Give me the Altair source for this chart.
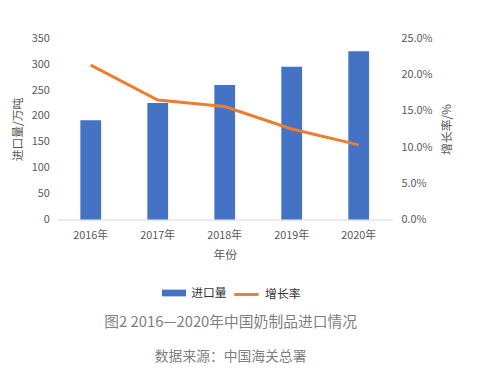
import altair as alt
import pandas as pd

years = ["2016年", "2017年", "2018年", "2019年", "2020年"]
imports = [192, 225, 260, 295, 325]
growth = [0.213, 0.165, 0.156, 0.125, 0.103]

df = pd.DataFrame({"year": years, "imports": imports, "growth": growth,
                   "s1": ["进口量"] * 5, "s2": ["增长率"] * 5})

FONT = "Noto Sans CJK SC"
GRAY = "#595959"

x = alt.X("year:N", title="年份", sort=years,
          scale=alt.Scale(paddingInner=0.69, paddingOuter=0.345),
          axis=alt.Axis(labelAngle=0, ticks=False, domainColor="#D9D9D9", domainWidth=1,
                        labelColor=GRAY, labelFontSize=11, labelPadding=10,
                        titleColor=GRAY, titleFontSize=12, titleFontWeight="normal",
                        titlePadding=9, labelFont=FONT, titleFont=FONT))

bars = alt.Chart(df).mark_bar(color="#4472C4").encode(
    x=x,
    y=alt.Y("imports:Q", title="进口量/万吨",
            scale=alt.Scale(domain=[0, 350]),
            axis=alt.Axis(values=[0, 50, 100, 150, 200, 250, 300, 350], grid=False,
                          domain=False, ticks=False, labelPadding=8,
                          labelColor=GRAY, labelFontSize=11, titleColor=GRAY,
                          titleFontSize=12, titleFontWeight="normal", titlePadding=7,
                          labelFont=FONT, titleFont=FONT)),
    fill=alt.Fill("s1:N", scale=alt.Scale(domain=["进口量"], range=["#4472C4"]),
                  legend=alt.Legend(title=None, orient="none", legendX=106, legendY=246,
                                    symbolType="M-1,-0.28H1V0.28H-1Z", symbolSize=600,
                                    symbolStrokeWidth=0, labelFontSize=12,
                                    labelColor="#333333", labelFont=FONT, labelOffset=5)),
)

line = alt.Chart(df).mark_line(strokeWidth=3).encode(
    x=x,
    y=alt.Y("growth:Q", title="增长率/%",
            scale=alt.Scale(domain=[0, 0.25]),
            axis=alt.Axis(orient="right", format=".1%", values=[0, 0.05, 0.1, 0.15, 0.2, 0.25],
                          grid=False, domain=False, ticks=False, labelPadding=9,
                          labelColor=GRAY, labelFontSize=11, titleColor=GRAY,
                          titleFontSize=12, titleFontWeight="normal", titleAngle=270,
                          titlePadding=22, labelFont=FONT, titleFont=FONT)),
    stroke=alt.Stroke("s2:N", scale=alt.Scale(domain=["增长率"], range=["#ED7D31"]),
                      legend=alt.Legend(title=None, orient="none", legendX=178, legendY=246,
                                        symbolType="stroke", symbolSize=600,
                                        symbolStrokeWidth=3, labelFontSize=12,
                                        labelColor="#333333", labelFont=FONT, labelOffset=5)),
)

chart = alt.layer(bars, line).resolve_scale(y="independent", fill="independent",
                                             stroke="independent").properties(
    width=340, height=184,
    autosize=alt.AutoSizeParams(type="none"),
    padding={"left": 50, "top": 28, "right": 80, "bottom": 160},
    title=alt.TitleParams(text="图2 2016—2020年中国奶制品进口情况",
                          subtitle="数据来源：中国海关总署",
                          orient="bottom", anchor="middle", dx=6, offset=15,
                          fontSize=15, fontWeight="normal", color="#7F7F7F", font=FONT,
                          subtitleFontSize=14, subtitleColor="#7F7F7F", subtitleFont=FONT,
                          subtitlePadding=21),
).configure(background="white").configure_view(stroke=None)

chart.save("out.html", embed_options={"renderer": "svg", "actions": False})
